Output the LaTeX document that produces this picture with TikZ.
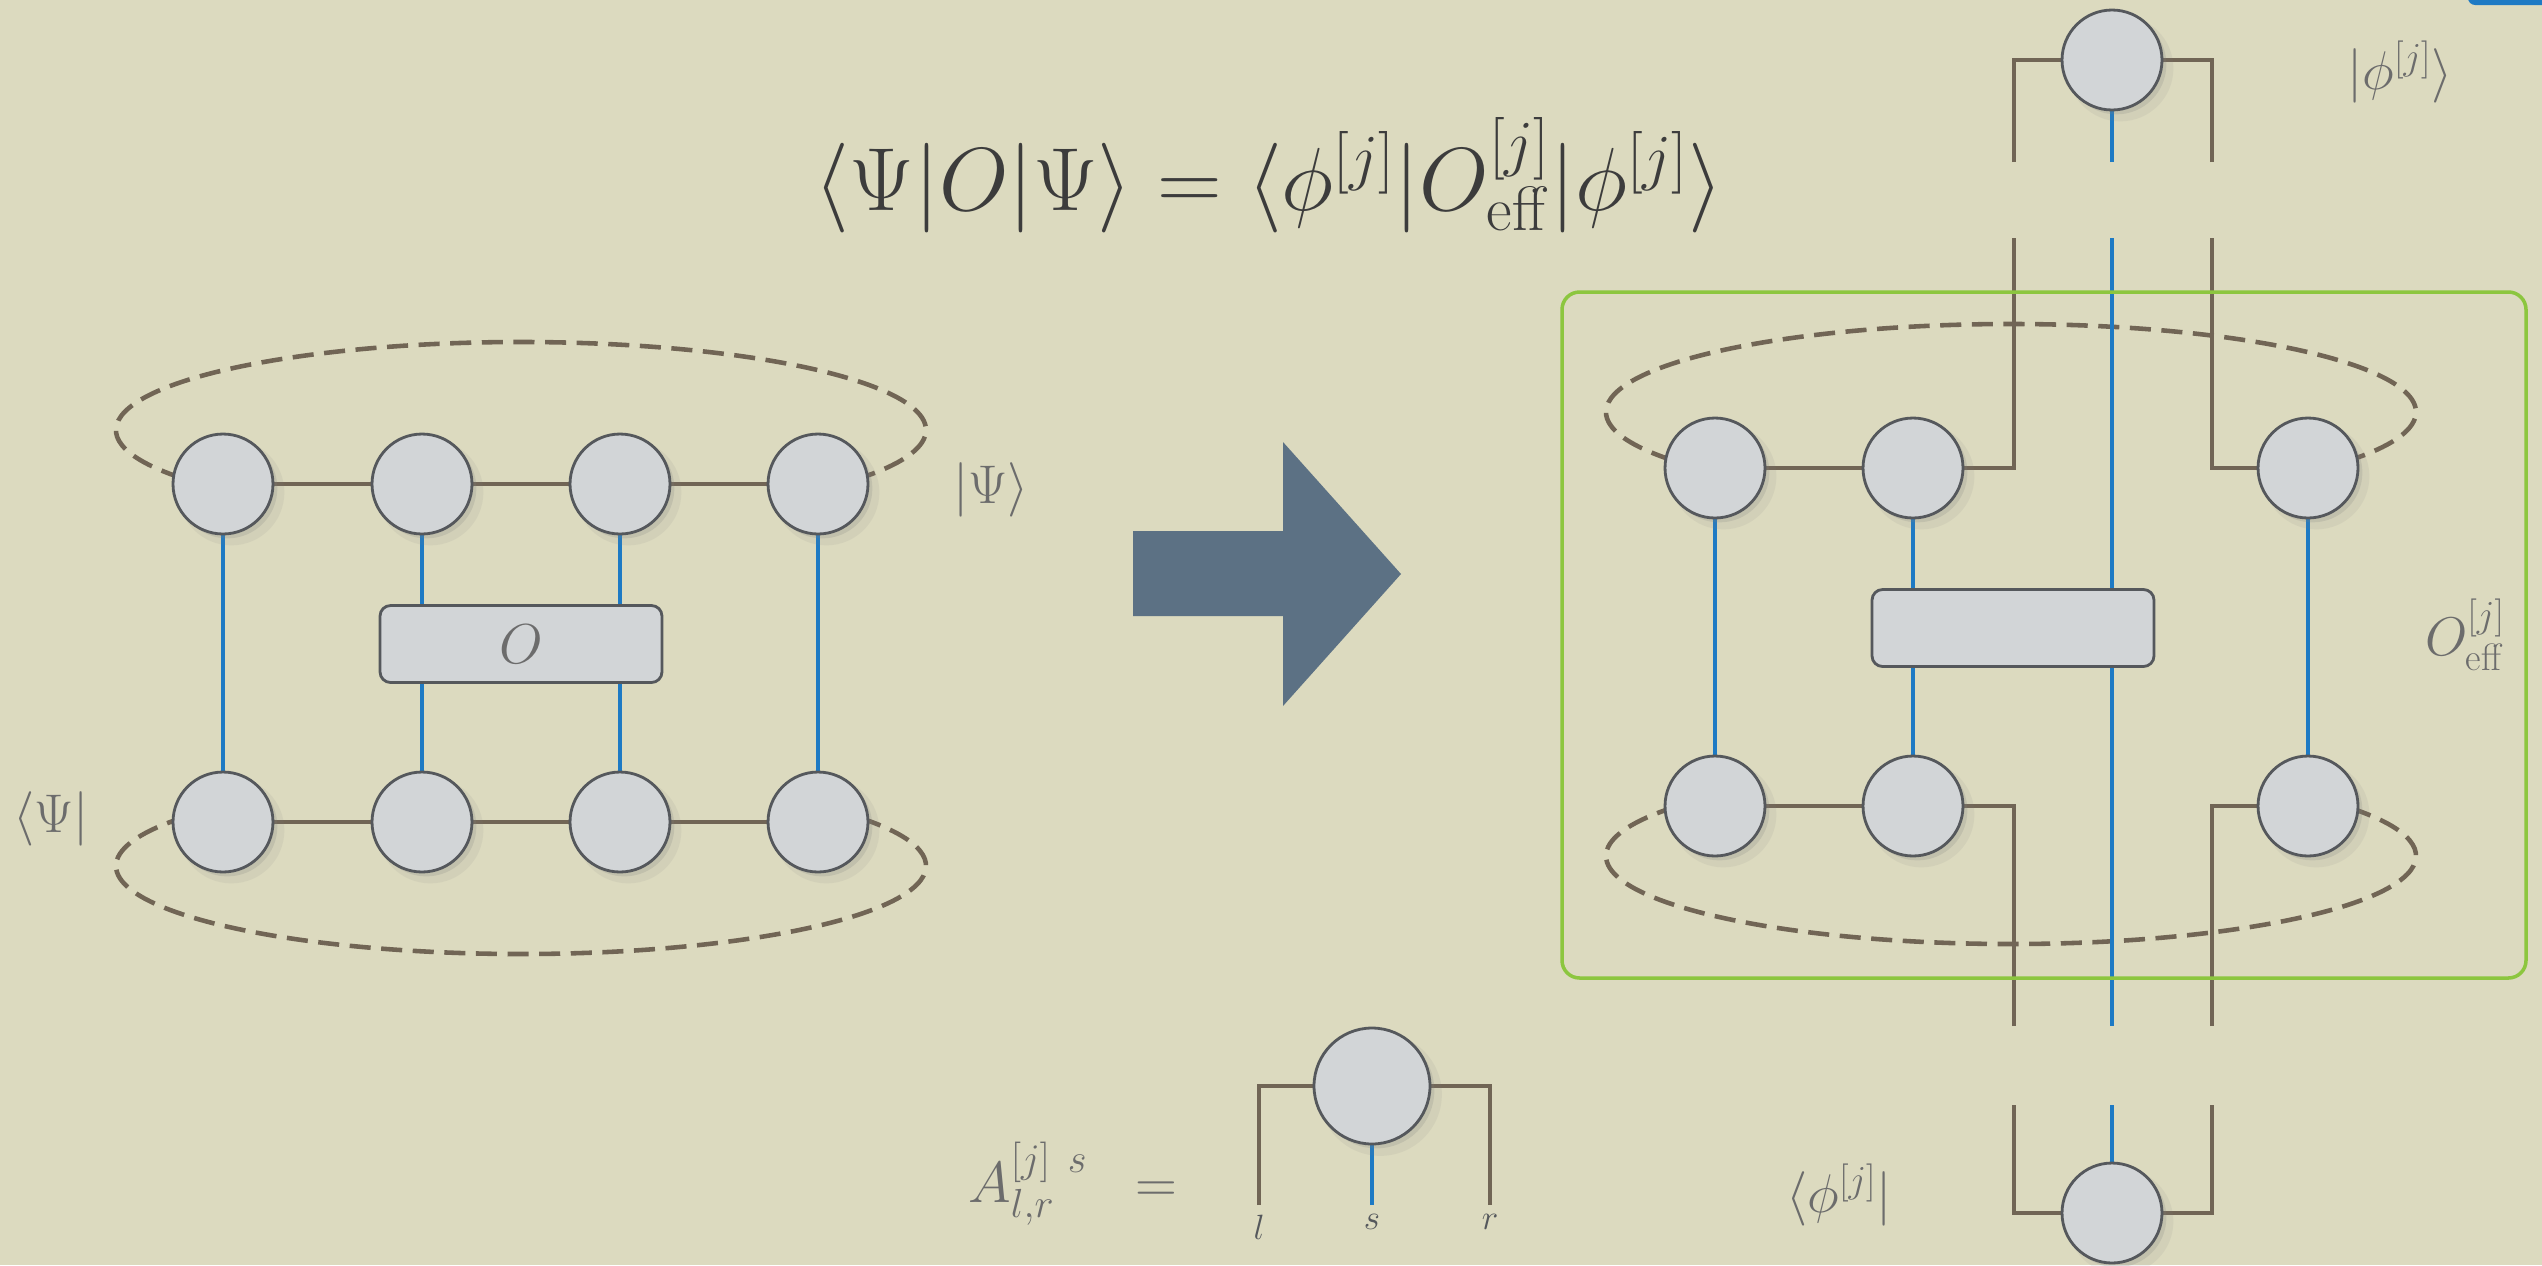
\RequirePackage{fix-cm}
\documentclass[tikz,border=0pt]{standalone}
\usepackage{amsmath}
\usetikzlibrary{shadows}

\pgfdeclarelayer{paper}
\pgfdeclarelayer{wires}
\pgfsetlayers{paper,wires,main}

\definecolor{paperbg}{RGB}{220,218,191}
\definecolor{bondbrown}{RGB}{113,101,85}
\definecolor{legblue}{RGB}{30,122,196}
\definecolor{tensorgray}{RGB}{210,213,215}
\definecolor{rimgray}{RGB}{85,88,92}
\definecolor{boxgreen}{RGB}{140,198,63}
\definecolor{arrowslate}{RGB}{92,113,132}
\definecolor{labelgray}{RGB}{108,108,108}
\definecolor{titlegray}{RGB}{60,60,60}

\tikzset{
  site/.style={circle, draw=rimgray, line width=1.6pt, fill=tensorgray,
    minimum size=2cm, inner sep=0pt,
    drop shadow={shadow xshift=4.5pt, shadow yshift=-4.5pt, opacity=0.10, shadow scale=1.06},
    drop shadow={shadow xshift=2.5pt, shadow yshift=-2.5pt, opacity=0.2}},
  gate/.style={rectangle, rounded corners=6pt, draw=rimgray, line width=1.6pt,
    fill=tensorgray, minimum width=5.64cm, minimum height=1.54cm, inner sep=0pt},
  bond/.style={draw=bondbrown, line width=2pt},
  leg/.style={draw=legblue, line width=2pt},
  ring/.style={draw=bondbrown, line width=2.6pt, dash pattern=on 12pt off 6pt},
  braket/.style={text=labelgray, font=\fontsize{31}{36}\selectfont},
  idx/.style={text=rimgray, font=\fontsize{20}{24}\selectfont},
}

\begin{document}
\begin{tikzpicture}[x=0.02cm, y=-0.02cm]
    \useasboundingbox (0,0) rectangle (2542,1265);
    \clip (0,0) rectangle (2542,1265);
    \begin{pgfonlayer}{paper}
      \fill[paperbg] (0,0) rectangle (2542,1265);
    \end{pgfonlayer}
    \fill[legblue, rounded corners=4pt] (2468,-20) rectangle (2560,5);

    % Title
    \node[text=titlegray, font=\fontsize{51}{58}\selectfont] (eqn) at (1269,175)
      {$\langle\Psi|O|\Psi\rangle = \langle\phi^{[j]}|O^{[j]}_{\text{eff}}|\phi^{[j]}\rangle$};

    % Left network: two rows of sites and the operator
    \foreach \i/\x in {1/223,2/422,3/620,4/818} {
      \node[site] (lt\i) at (\x,484) {};
      \node[site] (lb\i) at (\x,822) {};
    }
    \node[gate, font=\fontsize{32}{36}\selectfont, text=labelgray] (lgate) at (521,644) {$O$};
    \coordinate (lup) at (521,430);
    \coordinate (ldn) at (521,866);
    \node[braket] (ketpsi) at (991,490) {$|\Psi\rangle$};
    \node[braket] (brapsi) at (51,819) {$\langle\Psi|$};

    \begin{pgfonlayer}{wires}
      \draw[ring] (lup) ++(147:405 and 88) arc[start angle=147, end angle=393, x radius=405, y radius=88];
      \draw[ring] (ldn) ++(-33:405 and 88) arc[start angle=-33, end angle=213, x radius=405, y radius=88];
      \draw[bond] (lt1) -- (lt2) -- (lt3) -- (lt4);
      \draw[bond] (lb1) -- (lb2) -- (lb3) -- (lb4);
      \foreach \i in {1,2,3,4} \draw[leg] (lt\i) -- (lb\i);
    \end{pgfonlayer}

    % Arrow
    \fill[arrowslate] (1133,531) -- (1283,531) -- (1283,442) -- (1401,574)
      -- (1283,706) -- (1283,616) -- (1133,616) -- cycle;

    % Right network: site j taken out
    \draw[boxgreen, line width=2pt, rounded corners=10pt] (1562,292) rectangle (2526,978);
    \foreach \i/\x in {1/1715,2/1913,4/2308} {
      \node[site] (rt\i) at (\x,468) {};
      \node[site] (rb\i) at (\x,806) {};
    }
    \node[gate] (rgate) at (2013,628) {};
    \coordinate (rup) at (2011,412);
    \coordinate (rdn) at (2011,856);
    \coordinate (mtl) at (2014,238);
    \coordinate (mts) at (2112,238);
    \coordinate (mtr) at (2212,238);
    \coordinate (mbl) at (2014,1026);
    \coordinate (mbs) at (2112,1026);
    \coordinate (mbr) at (2212,1026);
    \node[braket] (oeff) at (2465,635) {$O^{[j]}_{\text{eff}}$};

    % Ket and bra of site j
    \node[site] (phiket) at (2112,60) {};
    \node[site] (phibra) at (2112,1213) {};
    \coordinate (ptl) at (2014,162);
    \coordinate (pts) at (2112,162);
    \coordinate (ptr) at (2212,162);
    \coordinate (pbl) at (2014,1105);
    \coordinate (pbs) at (2112,1105);
    \coordinate (pbr) at (2212,1105);
    \node[braket] (ketphi) at (2400,72) {$|\phi^{[j]}\rangle$};
    \node[braket] (braphi) at (1839,1195) {$\langle\phi^{[j]}|$};

    \begin{pgfonlayer}{wires}
      \draw[ring] (rup) ++(147:405 and 88) arc[start angle=147, end angle=393, x radius=405, y radius=88];
      \draw[ring] (rdn) ++(-33:405 and 88) arc[start angle=-33, end angle=213, x radius=405, y radius=88];
      \draw[bond] (rt1) -- (rt2);
      \draw[bond] (rb1) -- (rb2);
      \draw[bond] (mtl) |- (rt2);
      \draw[bond] (mtr) |- (rt4);
      \draw[bond] (mbl) |- (rb2);
      \draw[bond] (mbr) |- (rb4);
      \foreach \i in {1,2,4} \draw[leg] (rt\i) -- (rb\i);
      \draw[leg] (mts) -- (mbs);
      \draw[bond] (ptl) |- (phiket);
      \draw[bond] (ptr) |- (phiket);
      \draw[leg] (pts) -- (phiket);
      \draw[bond] (pbl) |- (phibra);
      \draw[bond] (pbr) |- (phibra);
      \draw[leg] (pbs) -- (phibra);
    \end{pgfonlayer}

    % Definition of A
    \node[text=labelgray, font=\fontsize{33}{38}\selectfont] (adef) at (1073,1184) {$A^{[j]\,\;s}_{l,r}\;\;=$};
    \node[site, minimum size=2.32cm] (atensor) at (1372,1086) {};
    \coordinate (al) at (1259,1205);
    \coordinate (as) at (1372,1205);
    \coordinate (ar) at (1490,1205);
    \node[idx, below=2pt] (lidx) at (al) {$l$};
    \node[idx, below=2pt] (sidx) at (as) {$s$};
    \node[idx, below=2pt] (ridx) at (ar) {$r$};
    \begin{pgfonlayer}{wires}
      \draw[bond] (al) |- (atensor);
      \draw[bond] (ar) |- (atensor);
      \draw[leg] (as) -- (atensor);
    \end{pgfonlayer}
\end{tikzpicture}
\end{document}
